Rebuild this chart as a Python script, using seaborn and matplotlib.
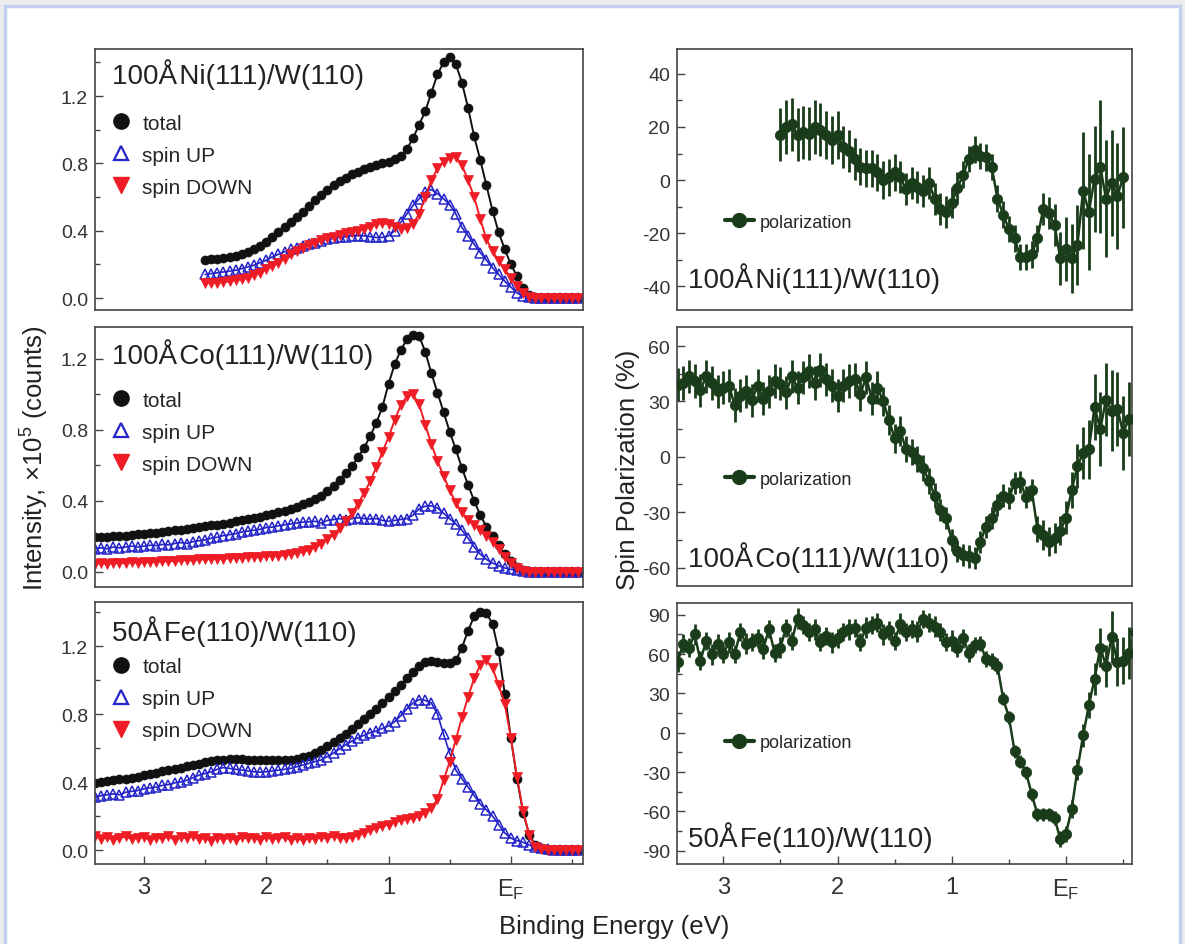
import numpy as np
import matplotlib
matplotlib.use("Agg")
import matplotlib.pyplot as plt
import seaborn as sns
from matplotlib.lines import Line2D
from matplotlib.patches import Rectangle
from matplotlib.ticker import FixedLocator, MultipleLocator

STEP = 0.05  # eV spacing of the scans (binding energy decreasing)

# ---- intensity spectra, x1e5 counts ----
ni_start = 2.50
ni_total = [0.225, 0.23, 0.235, 0.24, 0.245, 0.252, 0.262, 0.275, 0.29, 0.31,
            0.335, 0.36, 0.39, 0.42, 0.45, 0.48, 0.51, 0.545, 0.58, 0.61,
            0.645, 0.67, 0.695, 0.715, 0.735, 0.75, 0.765, 0.78, 0.79, 0.80,
            0.81, 0.825, 0.845, 0.885, 0.95, 1.03, 1.11, 1.22, 1.33, 1.40,
            1.43, 1.39, 1.28, 1.13, 0.96, 0.82, 0.67, 0.52, 0.39, 0.29,
            0.20, 0.13, 0.06, 0.02, 0.005, 0.0, 0.0, 0.0, 0.0, 0.0,
            0.0, 0.0]
ni_up = [0.14, 0.145, 0.15, 0.155, 0.16, 0.165, 0.175, 0.185, 0.195, 0.21,
         0.225, 0.245, 0.26, 0.275, 0.29, 0.30, 0.31, 0.32, 0.33, 0.34,
         0.35, 0.355, 0.36, 0.365, 0.37, 0.37, 0.37, 0.365, 0.36, 0.36,
         0.37, 0.40, 0.45, 0.50, 0.55, 0.59, 0.63, 0.645, 0.62, 0.59,
         0.555, 0.50, 0.42, 0.37, 0.32, 0.27, 0.225, 0.18, 0.14, 0.10,
         0.065, 0.03, 0.012, 0.004, 0.0, 0.0, 0.0, 0.0, 0.0, 0.0,
         0.0, 0.0]
ni_down = [0.09, 0.09, 0.092, 0.095, 0.10, 0.105, 0.112, 0.12, 0.135, 0.15,
           0.17, 0.19, 0.21, 0.235, 0.26, 0.28, 0.30, 0.315, 0.33, 0.345,
           0.355, 0.365, 0.375, 0.385, 0.39, 0.40, 0.41, 0.425, 0.44, 0.445,
           0.44, 0.425, 0.41, 0.415, 0.44, 0.50, 0.60, 0.70, 0.77, 0.81,
           0.835, 0.84, 0.79, 0.70, 0.60, 0.47, 0.35, 0.28, 0.22, 0.17,
           0.12, 0.07, 0.03, 0.008, 0.0, 0.0, 0.0, 0.0, 0.0, 0.0,
           0.0, 0.0]

co_start = 3.40
co_total = [0.195, 0.197, 0.199, 0.201, 0.203, 0.205, 0.208, 0.211, 0.214, 0.218,
            0.222, 0.226, 0.23, 0.234, 0.238, 0.242, 0.247, 0.252, 0.257, 0.262,
            0.267, 0.272, 0.278, 0.284, 0.29, 0.297, 0.304, 0.311, 0.318, 0.326,
            0.335, 0.345, 0.355, 0.366, 0.38, 0.395, 0.41, 0.43, 0.455, 0.485,
            0.52, 0.555, 0.595, 0.645, 0.70, 0.765, 0.84, 0.93, 1.06, 1.17,
            1.25, 1.31, 1.335, 1.33, 1.24, 1.12, 1.01, 0.90, 0.79, 0.69,
            0.585, 0.49, 0.40, 0.32, 0.255, 0.20, 0.15, 0.10, 0.06, 0.03,
            0.012, 0.004, 0.0, 0.0, 0.0, 0.0, 0.0, 0.0, 0.0, 0.0]
co_up = [0.13, 0.135, 0.13, 0.14, 0.135, 0.14, 0.145, 0.14, 0.145, 0.15,
         0.148, 0.155, 0.152, 0.16, 0.165, 0.16, 0.17, 0.175, 0.18, 0.19,
         0.195, 0.205, 0.21, 0.215, 0.225, 0.23, 0.235, 0.24, 0.25, 0.252,
         0.26, 0.265, 0.27, 0.275, 0.28, 0.282, 0.285, 0.275, 0.29, 0.295,
         0.30, 0.295, 0.30, 0.305, 0.30, 0.298, 0.30, 0.29, 0.285, 0.29,
         0.295, 0.30, 0.32, 0.355, 0.37, 0.372, 0.36, 0.33, 0.30, 0.27,
         0.235, 0.19, 0.14, 0.10, 0.07, 0.05, 0.035, 0.022, 0.014, 0.008,
         0.004, 0.002, 0.0, 0.0, 0.0, 0.0, 0.0, 0.0, 0.0, 0.0]
co_down = [0.045, 0.05, 0.045, 0.05, 0.052, 0.048, 0.055, 0.052, 0.055, 0.058,
           0.055, 0.06, 0.062, 0.06, 0.065, 0.068, 0.066, 0.07, 0.072, 0.07,
           0.075, 0.073, 0.078, 0.08, 0.078, 0.082, 0.085, 0.083, 0.088, 0.092,
           0.09, 0.095, 0.10, 0.108, 0.115, 0.125, 0.14, 0.16, 0.185, 0.21,
           0.245, 0.285, 0.33, 0.385, 0.445, 0.51, 0.59, 0.675, 0.76, 0.855,
           0.94, 0.99, 1.0, 0.945, 0.83, 0.72, 0.625, 0.54, 0.46, 0.39,
           0.335, 0.295, 0.265, 0.235, 0.205, 0.17, 0.13, 0.085, 0.05, 0.02,
           0.006, 0.0, 0.0, 0.0, 0.0, 0.0, 0.0, 0.0, 0.0, 0.0]

fe_start = 3.40
fe_total = [0.395, 0.40, 0.405, 0.41, 0.415, 0.42, 0.425, 0.432, 0.44, 0.447,
            0.455, 0.462, 0.47, 0.478, 0.485, 0.492, 0.50, 0.508, 0.515, 0.522,
            0.528, 0.532, 0.535, 0.536, 0.535, 0.532, 0.53, 0.528, 0.527, 0.527,
            0.528, 0.53, 0.532, 0.537, 0.545, 0.555, 0.57, 0.59, 0.61, 0.635,
            0.66, 0.685, 0.71, 0.74, 0.77, 0.80, 0.83, 0.865, 0.90, 0.935,
            0.97, 1.01, 1.05, 1.085, 1.105, 1.11, 1.105, 1.10, 1.10, 1.115,
            1.19, 1.29, 1.375, 1.40, 1.395, 1.33, 1.17, 0.92, 0.66, 0.42,
            0.22, 0.09, 0.03, 0.01, 0.0, 0.0, 0.0, 0.0, 0.0, 0.0]
fe_up = [0.31, 0.32, 0.325, 0.33, 0.325, 0.34, 0.345, 0.35, 0.36, 0.365,
         0.37, 0.38, 0.385, 0.395, 0.40, 0.41, 0.425, 0.44, 0.45, 0.46,
         0.475, 0.485, 0.48, 0.475, 0.47, 0.465, 0.46, 0.458, 0.46, 0.465,
         0.47, 0.475, 0.48, 0.49, 0.50, 0.51, 0.52, 0.53, 0.55, 0.57,
         0.595, 0.62, 0.64, 0.66, 0.675, 0.69, 0.70, 0.715, 0.73, 0.755,
         0.79, 0.83, 0.865, 0.885, 0.88, 0.865, 0.80, 0.68, 0.57, 0.47,
         0.42, 0.37, 0.32, 0.27, 0.235, 0.20, 0.15, 0.10, 0.07, 0.055,
         0.045, 0.03, 0.018, 0.01, 0.005, 0.0, 0.0, 0.0, 0.0, 0.0]
fe_down = [0.08, 0.065, 0.075, 0.06, 0.07, 0.08, 0.065, 0.07, 0.078, 0.06,
           0.072, 0.068, 0.08, 0.06, 0.075, 0.07, 0.082, 0.065, 0.07, 0.055,
           0.072, 0.065, 0.07, 0.06, 0.075, 0.068, 0.072, 0.06, 0.075, 0.065,
           0.07, 0.075, 0.06, 0.068, 0.058, 0.07, 0.065, 0.075, 0.07, 0.08,
           0.072, 0.068, 0.075, 0.09, 0.10, 0.115, 0.13, 0.14, 0.15, 0.165,
           0.175, 0.18, 0.19, 0.20, 0.22, 0.245, 0.30, 0.41, 0.52, 0.65,
           0.78, 0.90, 1.01, 1.09, 1.115, 1.07, 0.97, 0.86, 0.66, 0.43,
           0.23, 0.09, 0.02, 0.005, 0.0, 0.0, 0.0, 0.0, 0.0, 0.0]

# ---- spin polarization, % ----
ni_pol_start = 2.50
ni_pol = [17, 20, 21, 17, 18, 17.5, 20, 19, 17, 15,
          17, 12.5, 11, 8, 5, 4.5, 4.5, 3, 0, 1,
          3, 1, -3.5, -1, -2.5, -4, -1, -7, -11, -12,
          -8.5, -3, 2, 8, 11.5, 9, 8.5, 5, -7, -13,
          -18.5, -22, -29, -29, -28, -22, -11, -12.5, -17, -29.5,
          -26, -29.5, -24.5, -4, -12, 0.5, 5, -7, -1, -6,
          1]
ni_pol_err = [10, 10, 10, 10, 10, 10, 10, 10, 9, 9,
              9, 8, 8, 8, 7, 7, 7, 7, 7, 7,
              7, 6, 6, 6, 6, 6, 6, 6, 6, 6,
              6, 6, 5, 5, 5, 5, 5, 5, 5, 5,
              5, 5, 5, 5, 5, 5, 6, 6, 8, 10,
              12, 13, 15, 22, 22, 20, 25, 22, 20, 20,
              19]

co_pol_start = 3.40
co_pol = [39, 40, 43.5, 41, 36, 43.5, 40, 35.5, 37.5, 38.5,
          28, 33, 35.5, 30.5, 38.5, 31.5, 35.5, 41, 39.5, 35,
          43.5, 37.5, 43, 46.5, 40, 47, 42, 38.5, 33, 38.5,
          41, 42, 34, 43, 31.5, 37.5, 30, 20, 10, 14,
          4, 2.5, -1, -6, -13, -21, -29, -33, -45, -51,
          -53, -54, -55, -46, -38, -33, -26, -21, -22.5, -14,
          -13.5, -22, -18, -39, -42.5, -46, -44, -40, -33, -18,
          -5, 2, 4, 27, 15, 31, 25, 26, 13, 20.5]
co_pol_err = [9, 9, 9, 9, 9, 9, 9, 9, 9, 9,
              9, 9, 9, 9, 9, 9, 9, 9, 9, 9,
              9, 9, 9, 9, 9, 9, 9, 9, 9, 9,
              9, 9, 9, 9, 9, 9, 8, 8, 8, 8,
              7, 7, 7, 7, 7, 7, 6, 6, 6, 6,
              6, 6, 6, 6, 6, 6, 6, 6, 6, 6,
              6, 6, 6, 7, 8, 8, 8, 8, 9, 10,
              12, 14, 16, 18, 20, 20, 22, 20, 20, 20]

fe_pol_start = 3.40
fe_pol = [54, 68, 65, 75, 55, 70, 60, 68, 60, 69,
          60, 77, 68, 69, 72, 64, 79, 61, 65, 80,
          70, 87, 82, 77, 79, 69, 74, 69, 72, 77,
          79, 80, 69, 80, 82, 84, 75, 78, 70, 83,
          77, 79, 77, 87, 84, 81, 77, 69, 70, 65,
          72, 61, 67, 68, 56, 55, 51, 26, 12, -14,
          -22, -30, -47, -62, -62, -62, -65, -81, -77, -58,
          -28, -2, 21, 41, 65, 51, 73, 54, 55, 61,
          77]
fe_pol_err = [8, 7, 7, 8, 7, 7, 8, 7, 7, 8,
              7, 7, 8, 7, 7, 8, 7, 7, 8, 7,
              7, 8, 7, 7, 8, 7, 7, 8, 7, 7,
              8, 7, 7, 8, 7, 7, 8, 7, 7, 8,
              7, 7, 8, 7, 7, 8, 7, 7, 8, 7,
              7, 7, 6, 6, 6, 6, 6, 5, 5, 5,
              5, 5, 5, 5, 5, 5, 5, 6, 6, 7,
              8, 9, 10, 12, 15, 16, 20, 18, 18, 20,
              20]

samples = ["100Å\u200aNi(111)/W(110)", "100Å\u200aCo(111)/W(110)", "50Å\u200aFe(110)/W(110)"]
series_labels = ["total", "spin UP", "spin DOWN"]
x_ticks = [3, 2, 1, 0]
x_ticklabels = ["3", "2", "1", r"$\mathregular{E_F}$"]
int_ticks = [0.0, 0.4, 0.8, 1.2]
pol_ticks = [[-40, -20, 0, 20, 40], [-60, -30, 0, 30, 60],
             [-90, -60, -30, 0, 30, 60, 90]]

BLACK, BLUE, RED, GREEN = "#111111", "#2424c8", "#ee1c24", "#1a3c1a"


def energy(start, n):
    return np.round(start - STEP * np.arange(n), 2)


sns.set_style("ticks")
plt.rcParams["font.family"] = ["Liberation Sans", "DejaVu Sans"]
plt.rcParams["mathtext.fontset"] = "custom"
plt.rcParams["mathtext.rm"] = "Liberation Sans"
plt.rcParams["mathtext.it"] = "Liberation Sans:italic"
plt.rcParams["axes.edgecolor"] = "#444444"
plt.rcParams["axes.linewidth"] = 1.2
plt.rcParams["axes.unicode_minus"] = False

fig = plt.figure(figsize=(11.85, 9.45), dpi=100)
fig.patches.append(Rectangle((0, 0), 1, 1, transform=fig.transFigure,
                             facecolor="#ececec", edgecolor="none", zorder=-3))
fig.patches.append(Rectangle((5 / 1185, -0.02), 1175 / 1185, 1.02 - 7 / 945,
                             transform=fig.transFigure, facecolor="white",
                             edgecolor="#c3d0f0", lw=2.5, zorder=-2))

left_pos = [(0.0802, 0.6709, 0.4118, 0.2762),
            (0.0802, 0.3778, 0.4118, 0.2751),
            (0.0802, 0.0847, 0.4118, 0.2772)]
right_pos = [(0.5713, 0.6709, 0.3840, 0.2762),
             (0.5713, 0.3788, 0.3840, 0.2741),
             (0.5713, 0.0847, 0.3840, 0.2762)]
left_ylim = [(-0.071, 1.48), (-0.085, 1.38), (-0.082, 1.459)]
right_ylim = [(-49, 49.4), (-70, 70.3), (-100, 99)]
minor_pol = [10, 15, 15]

spectra = [(ni_start, ni_total, ni_up, ni_down),
           (co_start, co_total, co_up, co_down),
           (fe_start, fe_total, fe_up, fe_down)]
polar = [(ni_pol_start, ni_pol, ni_pol_err),
         (co_pol_start, co_pol, co_pol_err),
         (fe_pol_start, fe_pol, fe_pol_err)]

label_y_left = [0.904, 0.896, 0.889]
label_y_right = [0.126, 0.112, 0.103]
leg_y_left = [0.752, 0.755, 0.79]
leg_y_right = [0.337, 0.413, 0.464]

for i in range(3):
    # ---------- intensity ----------
    ax = fig.add_axes(left_pos[i])
    start, tot, up, dn = spectra[i]
    e = energy(start, len(tot))
    sns.lineplot(x=e, y=tot, ax=ax, color=BLACK, lw=1.4, marker="o", markersize=6.5,
                 markeredgecolor=BLACK, markeredgewidth=0.5)
    sns.lineplot(x=e, y=up, ax=ax, color=BLUE, lw=1.2, marker="^", markersize=7,
                 markerfacecolor="none", markeredgecolor=BLUE, markeredgewidth=1.1)
    sns.lineplot(x=e, y=dn, ax=ax, color=RED, lw=1.4, marker="v", markersize=7,
                 markeredgecolor=RED, markeredgewidth=0.5)
    ax.set_xlim(3.40, -0.59)
    ax.set_ylim(*left_ylim[i])
    ax.yaxis.set_major_locator(FixedLocator(int_ticks))
    ax.set_yticklabels([f"{t:.1f}" for t in int_ticks])
    ax.yaxis.set_minor_locator(MultipleLocator(0.2))
    ax.text(0.035, label_y_left[i], samples[i], transform=ax.transAxes,
            fontsize=20, va="center", ha="left", color="#222222")
    handles = [Line2D([], [], ls="none", marker="o", ms=11, color=BLACK),
               Line2D([], [], ls="none", marker="^", ms=10, mfc="none", mec=BLUE, mew=1.6),
               Line2D([], [], ls="none", marker="v", ms=11, color=RED)]
    ax.legend(handles, series_labels, loc="upper left", bbox_to_anchor=(0.035, leg_y_left[i]),
              frameon=False, fontsize=15, handlelength=0.9, handletextpad=0.55,
              labelspacing=0.62, borderpad=0, borderaxespad=0)

    # ---------- polarization ----------
    axr = fig.add_axes(right_pos[i])
    ps, pol, err = polar[i]
    ep = energy(ps, len(pol))
    axr.errorbar(ep, pol, yerr=err, fmt="none", ecolor=GREEN, elinewidth=2.0, capsize=0,
                 zorder=2)
    sns.lineplot(x=ep, y=pol, ax=axr, color=GREEN, lw=1.8, marker="o", markersize=7.5,
                 markeredgecolor=GREEN, markeredgewidth=0.5, zorder=3)
    axr.set_xlim(3.405, -0.578)
    axr.set_ylim(*right_ylim[i])
    axr.yaxis.set_major_locator(FixedLocator(pol_ticks[i]))
    axr.yaxis.set_minor_locator(MultipleLocator(minor_pol[i]))
    axr.text(0.024, label_y_right[i], samples[i], transform=axr.transAxes,
             fontsize=20, va="center", ha="left", color="#222222")
    ph = [Line2D([], [], color=GREEN, lw=3, marker="o", ms=10)]
    axr.legend(ph, ["polarization"], loc="center left", bbox_to_anchor=(0.105, leg_y_right[i]),
               frameon=False, fontsize=13, handlelength=1.6, handletextpad=0.35,
               borderpad=0, borderaxespad=0)

    for a in (ax, axr):
        a.tick_params(axis="both", which="both", direction="in", color="#444444")
        a.tick_params(axis="y", which="major", length=6, width=1, labelsize=14,
                      labelcolor="#333333", pad=5)
        a.tick_params(axis="y", which="minor", length=3.5, width=1)
        a.xaxis.set_major_locator(FixedLocator(x_ticks))
        a.xaxis.set_minor_locator(MultipleLocator(0.5))
        if i == 2:
            a.set_xticklabels(x_ticklabels)
            a.tick_params(axis="x", which="major", length=6, width=1, labelsize=17,
                          labelcolor="#333333", pad=9)
            a.tick_params(axis="x", which="minor", length=3.5, width=1)
        else:
            a.tick_params(axis="x", which="both", bottom=False, labelbottom=False)
        a.set_xlabel("")
        a.set_ylabel("")

fig.text(35 / 1185, 1 - 458 / 945, r"Intensity, $\mathregular{\times 10^5}$ (counts)",
         rotation=90, ha="center", va="center", fontsize=18.5, color="#222222")
fig.text(628 / 1185, 1 - 470 / 945, "Spin Polarization (%)",
         rotation=90, ha="center", va="center", fontsize=18.5, color="#222222")
fig.text(614 / 1185, 1 - 927 / 945, "Binding Energy (eV)",
         ha="center", va="center", fontsize=18.5, color="#222222")

fig.savefig("out.png", dpi=100)
